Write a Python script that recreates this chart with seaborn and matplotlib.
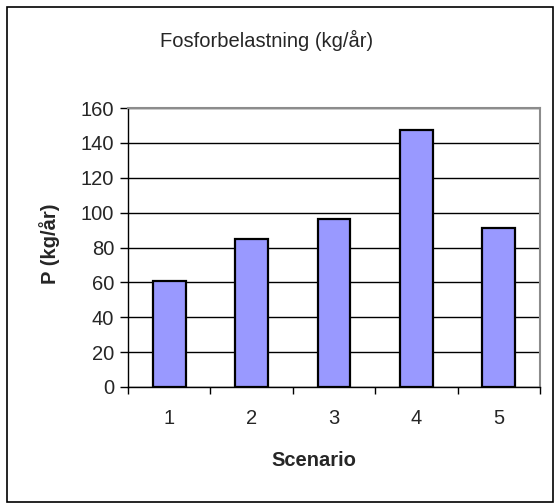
import matplotlib
matplotlib.use("Agg")
import matplotlib.pyplot as plt
import seaborn as sns
import pandas as pd
from matplotlib.patches import Rectangle
from matplotlib.ticker import FixedLocator

# data
scenarios = ["1", "2", "3", "4", "5"]
p_load = [61, 85, 96.5, 147.5, 91]
y_ticks = [0, 20, 40, 60, 80, 100, 120, 140, 160]

df = pd.DataFrame({"Scenario": scenarios, "P": p_load})

sns.set_style("white")
plt.rcParams["font.family"] = ["Liberation Sans", "DejaVu Sans"]

fig = plt.figure(figsize=(5.55, 5.03), dpi=100)
ax = fig.add_axes([128 / 555, 1 - 387 / 503, (540 - 128) / 555, (387 - 108) / 503])

sns.barplot(data=df, x="Scenario", y="P", color="#9999FF", width=0.4,
            edgecolor="black", linewidth=1.6, saturation=1, ax=ax, zorder=3)

ax.set_ylim(0, 160)
ax.set_xlim(-0.5, 4.5)
ax.set_yticks(y_ticks)
ax.tick_params(axis="y", labelsize=14.5, length=6, width=1, color="black",
               direction="out", left=True, pad=4)
ax.tick_params(axis="x", which="major", labelsize=14.5, length=0, pad=16)
ax.xaxis.set_minor_locator(FixedLocator([-0.5, 0.5, 1.5, 2.5, 3.5, 4.5]))
ax.tick_params(axis="x", which="minor", length=5, width=1, color="black",
               direction="out", bottom=True)

ax.yaxis.grid(True, color="black", linewidth=1, zorder=0)
ax.set_axisbelow(True)

for side in ["left", "bottom"]:
    ax.spines[side].set_color("black")
    ax.spines[side].set_linewidth(1)
for side in ["top", "right"]:
    ax.spines[side].set_color("#8c8c8c")
    ax.spines[side].set_linewidth(1.5)

ax.set_xlabel("Scenario", fontsize=14.5, fontweight="bold")
ax.set_ylabel("P (kg/år)", fontsize=14.5, fontweight="bold")
ax.xaxis.label.set_va("center")
ax.yaxis.label.set_va("center")
ax.xaxis.set_label_coords((314 - 128) / 412, (387 - 460) / 279)
ax.yaxis.set_label_coords((50 - 128) / 412, (387 - 244) / 279)

fig.text(267 / 555, 1 - 40 / 503, "Fosforbelastning (kg/år)", fontsize=14.5,
         ha="center", va="center")

# outer chart frame
fig.patches.append(Rectangle((7 / 555, 1.5 / 503), (553 - 7) / 555, (496 - 1.5) / 503,
                             transform=fig.transFigure, fill=False,
                             edgecolor="black", linewidth=1.2))

fig.savefig("out.png", dpi=100)
